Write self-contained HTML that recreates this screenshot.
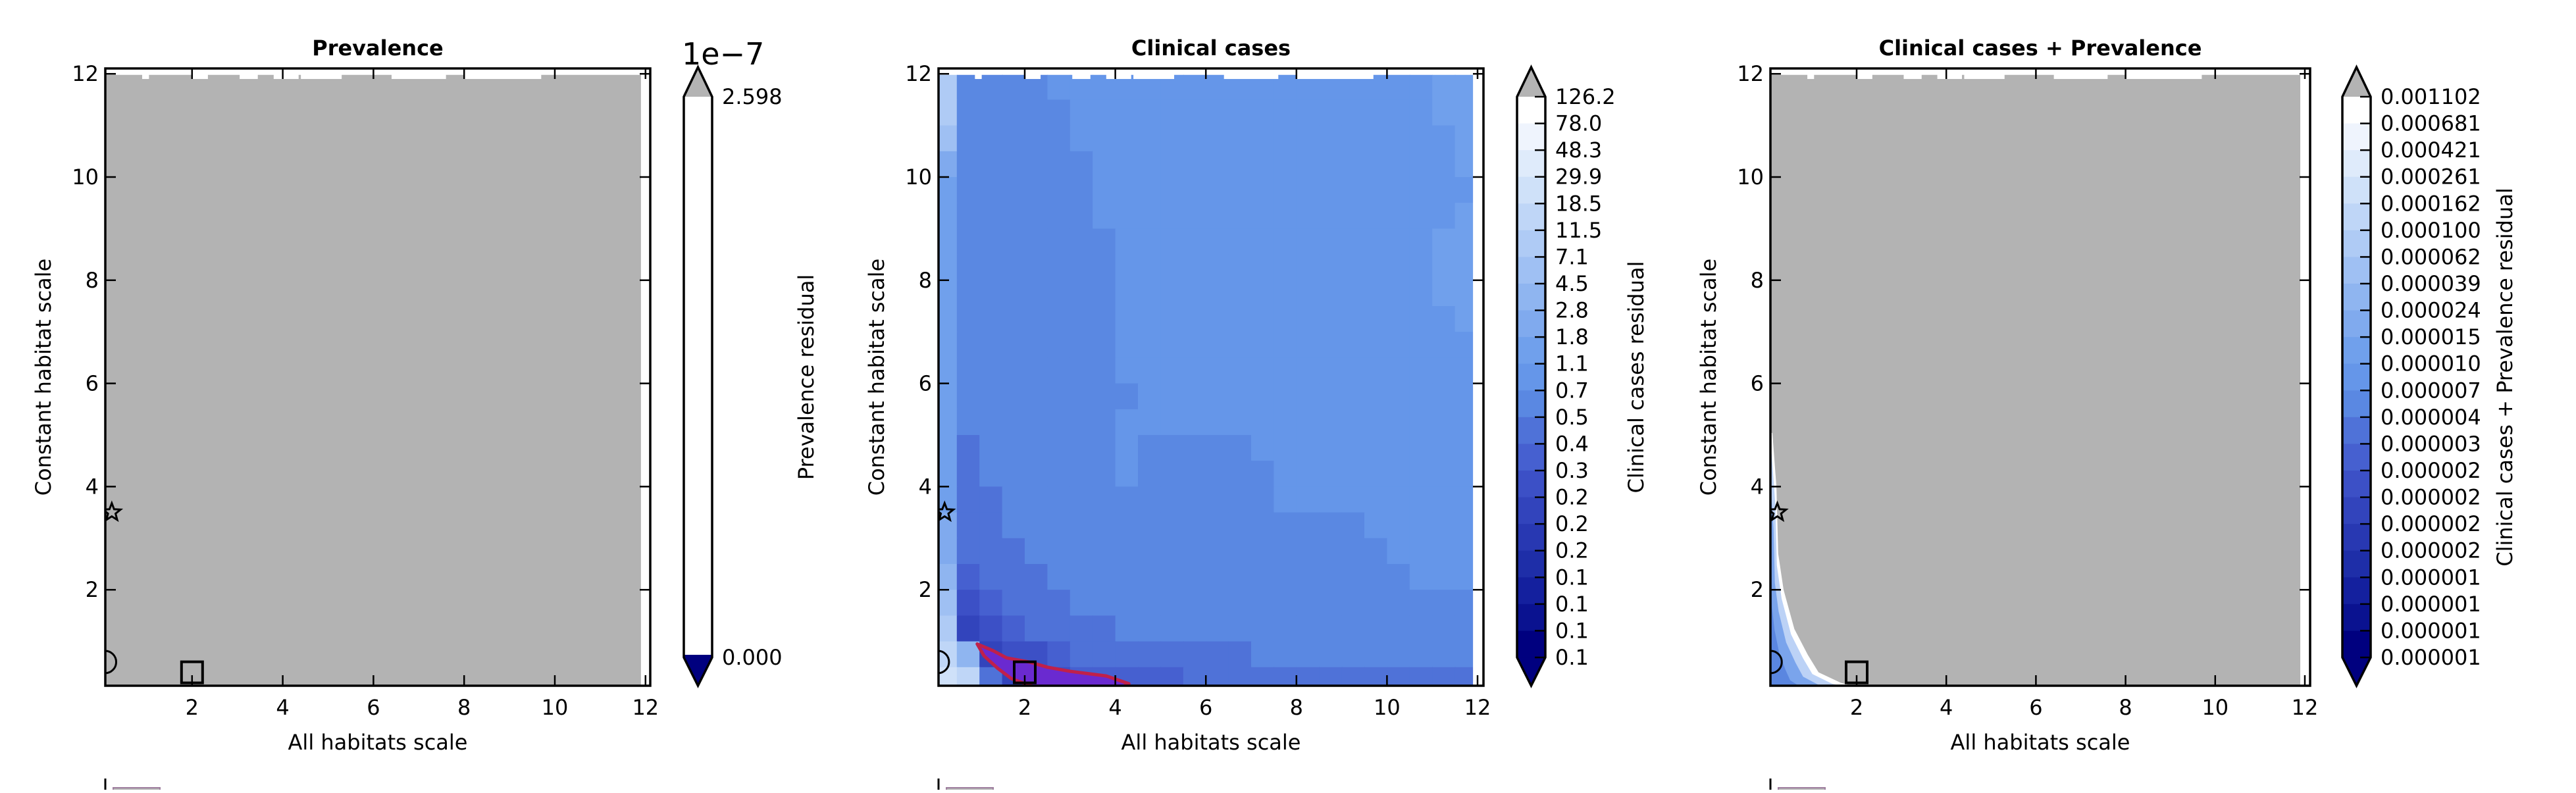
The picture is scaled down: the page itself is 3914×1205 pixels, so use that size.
<!DOCTYPE html>
<html><head><meta charset="utf-8"><style>
html,body{margin:0;padding:0;background:#fff;}
svg text{font-family:"DejaVu Sans","Liberation Sans",sans-serif;}
</style></head><body>
<svg id="fig" xmlns="http://www.w3.org/2000/svg" width="3914" height="1200" viewBox="0 0 3914 1200"></svg>
<script>
// ---------- data ----------
const xTicks = [2,4,6,8,10,12];
const yTicks = [2,4,6,8,10,12];
const panelTitles = ["Prevalence","Clinical cases","Clinical cases + Prevalence"];
const cbarLabels = ["Prevalence residual","Clinical cases residual","Clinical cases + Prevalence residual"];
const prevTicks = ["2.598","0.000"];
const clinTicks = ["126.2","78.0","48.3","29.9","18.5","11.5","7.1","4.5","2.8","1.8","1.1","0.7","0.5","0.4","0.3","0.2","0.2","0.2","0.1","0.1","0.1","0.1"];
const combTicks = ["0.001102","0.000681","0.000421","0.000261","0.000162","0.000100","0.000062","0.000039","0.000024","0.000015","0.000010","0.000007","0.000004","0.000003","0.000002","0.000002","0.000002","0.000002","0.000001","0.000001","0.000001","0.000001"];
// level colours, index 0 = lowest (navy) .. 20 = highest (white)
const levelColors = ["#00007f","#0a1290","#14209e","#1e2ea8","#2838b2","#3244bc","#3c50c6","#4660d0","#4f72d8","#5a88e2","#6596e9","#70a0ec","#80aaee","#8fb5f0","#9fc0f3","#afcbf5","#bfd6f7","#cfe1f9","#dfebfb","#eff4fd","#ffffff"];
// clinical-cases residual level grid (0.5-unit cells); row 0 = y 11.5..12, col 0 = x 0..0.5; 'a'=0 ... 'u'=20
const clinGrid = [
"pjjjjkkkkkkkkkkkkkkkkkll",
"pjjjjjkkkkkkkkkkkkkkkkll",
"ojjjjjkkkkkkkkkkkkkkkkkl",
"mjjjjjjkkkkkkkkkkkkkkkkl",
"ljjjjjjkkkkkkkkkkkkkkkkk",
"ljjjjjjkkkkkkkkkkkkkkkkl",
"ljjjjjjjkkkkkkkkkkkkkkll",
"ljjjjjjjkkkkkkkkkkkkkkll",
"ljjjjjjjkkkkkkkkkkkkkkll",
"ljjjjjjjkkkkkkkkkkkkkkkl",
"ljjjjjjjkkkkkkkkkkkkkkkk",
"ljjjjjjjkkkkkkkkkkkkkkkk",
"ljjjjjjjjkkkkkkkkkkkkkkk",
"ljjjjjjjkkkkkkkkkkkkkkkk",
"lijjjjjjkjjjjjkkkkkkkkkk",
"lijjjjjjkjjjjjjkkkkkkkkk",
"liijjjjjjjjjjjjkkkkkkkkk",
"miijjjjjjjjjjjjjjjjkkkkk",
"miiijjjjjjjjjjjjjjjjkkkk",
"nhiiijjjjjjjjjjjjjjjjkkk",
"oghiiijjjjjjjjjjjjjjjjjj",
"pfghiiiijjjjjjjjjjjjjjjj",
"qnfgghiiiiiiiijjjjjjjjjj",
"rqifgghhhhhiiiiiiiiiiiii"];
// 3rd percentile contour (clinical) in data coords
const pctX = [0.95,1.3,1.6,2.1,2.5,3.0,3.8,4.3,4.0,3.0,2.2,1.7,1.4,1.1];
const pctY = [0.95,0.82,0.68,0.6,0.5,0.42,0.33,0.18,0.05,0.1,0.12,0.28,0.48,0.72];
// combined residual: edge of valid region (data coords)
const combEdgeX = [0.12,0.21,0.25,0.37,0.61,0.91,1.15,1.64,1.9];
const combEdgeY = [5.04,4.0,2.7,2.0,1.24,0.74,0.4,0.2,0.14];
// masked (white) notches along top edge, x ranges
const topGapStart = [0.9,2.0,3.05,3.8,4.4,6.4,8.0];
const topGapEnd = [1.05,2.35,3.45,4.35,5.3,7.6,9.7];
// reference markers
const starPt = [0.23,3.5], circlePt = [0.08,0.6], squarePt = [2.0,0.4];

// ---------- layout ----------
const NS="http://www.w3.org/2000/svg";
const svg=document.getElementById('fig');
const panels=[{l:160,r:988,x0:154,ux:68.9,cb:1039},{l:1426,r:2254,x0:1419.4,ux:68.8,cb:2305},{l:2690,r:3510,x0:2684.8,ux:68.1,cb:3559}];
const T=104,B=1042,Y0=1053,UY=78.4;
function el(tag,attrs,parent){const e=document.createElementNS(NS,tag);for(const k in attrs)e.setAttribute(k,attrs[k]);(parent||svg).appendChild(e);return e;}
function txt(s,attrs,parent){const e=el('text',attrs,parent);e.textContent=s;return e;}

panels.forEach((p,pi)=>{
  const sx=d=>p.x0+d*p.ux, sy=d=>Y0-d*UY;
  const g=el('g',{});
  
  
  const clip=el('clipPath',{id:'clip'+pi},g);
  el('rect',{x:p.l,y:T,width:p.r-p.l,height:B-T},clip);
  const plot=el('g',{'clip-path':'url(#clip'+pi+')'},g);
  
  
  const xEnd=11.9, yTop=11.98;
  if(pi===1){
    clinGrid.forEach((row,ri)=>{
      for(let ci=0;ci<row.length;ci++){
        const lv=row.charCodeAt(ci)-97;
        const xa=ci*0.5, xb=Math.min(xEnd,(ci+1)*0.5), ya=12-ri*0.5, yb=12-(ri+1)*0.5;
        const c=el('rect',{x:sx(xa),y:sy(Math.min(ya,yTop)),width:sx(xb)-sx(xa)+1,height:sy(yb)-sy(Math.min(ya,yTop))+1,fill:levelColors[lv]},plot);
        
        
      }
    });
    const pts=pctX.map((x,i)=>sx(x)+','+sy(pctY[i])).join(' ');
    const pc=el('polygon',{points:pts,fill:'#6a2ad0',stroke:'#c0204a','stroke-width':5,'stroke-linejoin':'round'},plot);
    
    
  } else {
    const bg=el('rect',{x:sx(0),y:sy(yTop),width:sx(xEnd)-sx(0),height:sy(0)-sy(yTop),fill:'#b3b3b3'},plot);
    
    
    if(pi===2){
      const shades=[["#ffffff",1],["#bcd2f6",0.88],["#7aa4ec",0.7],["#5a86e0",0.45]];
      shades.forEach(([col,f])=>{
        const pts=[sx(0)+','+sy(combEdgeY[0])].concat(combEdgeX.map((x,i)=>sx(x*f)+','+sy(combEdgeY[i]*(0.3+0.7*f)))).concat([sx(combEdgeX[combEdgeX.length-1]*f)+','+sy(0),sx(0)+','+sy(0)]).join(' ');
        const pg=el('polygon',{points:pts,fill:col},plot);
        
        
      });
    }
  }
  topGapStart.forEach((a,i)=>{
    el('rect',{x:sx(a),y:T,width:sx(topGapEnd[i])-sx(a),height:sy(11.9)-T,fill:'#fff'},plot);
  });
  el('rect',{x:sx(xEnd),y:T,width:p.r-sx(xEnd),height:B-T,fill:'#fff'},plot);
  // markers
  const st=[];for(let k=0;k<10;k++){const a=-Math.PI/2+k*Math.PI/5,r=k%2?6:14;st.push((sx(starPt[0])+r*Math.cos(a))+','+(sy(starPt[1])+r*Math.sin(a)));}
  const s=el('polygon',{points:st.join(' '),fill:'none',stroke:'#000','stroke-width':3},plot);
  
  
  const c=el('circle',{cx:sx(circlePt[0]),cy:sy(circlePt[1]),r:17,fill:'none',stroke:'#000','stroke-width':3},plot);
  
  
  const sq=el('rect',{x:sx(squarePt[0])-16,y:sy(squarePt[1])-16,width:32,height:32,fill:'none',stroke:'#000','stroke-width':4},plot);
  
  
  // frame
  el('rect',{x:p.l,y:T,width:p.r-p.l,height:B-T,fill:'none',stroke:'#000','stroke-width':3.5},g);
  xTicks.forEach(v=>{
    const x=sx(v);
    el('line',{x1:x,y1:B,x2:x,y2:B-16,stroke:'#000','stroke-width':2.5},g);
    el('line',{x1:x,y1:T,x2:x,y2:T+16,stroke:'#000','stroke-width':2.5},g);
    const t=txt(String(v),{x:x,y:B+44,'font-size':32,'text-anchor':'middle'},g);
    
    
  });
  yTicks.forEach(v=>{
    const y=sy(v);
    el('line',{x1:p.l,y1:y,x2:p.l+16,y2:y,stroke:'#000','stroke-width':2.5},g);
    el('line',{x1:p.r,y1:y,x2:p.r-16,y2:y,stroke:'#000','stroke-width':2.5},g);
    const t=txt(String(v),{x:p.l-10,y:y+11,'font-size':32,'text-anchor':'end'},g);
    
    
  });
  const cx=(p.l+p.r)/2;
  const ti=txt(panelTitles[pi],{x:cx,y:84,'font-size':32,'font-weight':'bold','text-anchor':'middle'},g);
  
  
  const xt=txt('All habitats scale',{x:cx,y:1139,'font-size':32,'text-anchor':'middle'},g);
  
  
  const yx=p.l-94, ym=(T+B)/2;
  const yt=txt('Constant habitat scale',{x:yx,y:ym,'font-size':32,'text-anchor':'middle',transform:'rotate(-90 '+yx+' '+ym+')',dy:11},g);
  
  
  // legend fragment at bottom
  el('line',{x1:p.l,y1:1183,x2:p.l,y2:1200,stroke:'#000','stroke-width':3},g);
  const lp=el('rect',{x:p.l+12,y:1197,width:71,height:10,fill:'#b3b3b3',stroke:'#a080a0','stroke-width':2},g);
  
  
  // colorbar
  const cb=el('g',{},g);
  
  
  const L=p.cb,R=p.cb+43,M=(L+R)/2,rt=147,rb=999;
  el('polygon',{points:`${L},${rt} ${M},102 ${R},${rt}`,fill:'#b3b3b3'},cb);
  el('polygon',{points:`${L},${rb} ${M},1042 ${R},${rb}`,fill:'#00007f'},cb);
  const labels=pi===0?prevTicks:(pi===1?clinTicks:combTicks);
  if(pi===0){
    el('rect',{x:L,y:rt,width:R-L,height:rb-rt,fill:'#fff'},cb);
    el('rect',{x:L,y:rb-4,width:R-L,height:4,fill:'#00007f'},cb);
    labels.forEach((s,i)=>{
      const y=i===0?rt:rb;
      const t=txt(s,{x:R+15,y:y+11,'font-size':32},cb);
      
      
    });
    const e=txt('1e\u22127',{x:L-3,y:98,'font-size':46},cb);
    
    
  } else {
    const n=labels.length-1, h=(rb-rt)/n;
    for(let i=0;i<n;i++){
      const lv=n-1-i;
      el('rect',{x:L,y:rt+i*h,width:R-L,height:h+0.6,fill:levelColors[lv]},cb);
    }
    labels.forEach((s,i)=>{
      const y=rt+i*h;
      el('line',{x1:R,y1:y,x2:R-16,y2:y,stroke:'#000','stroke-width':2.5},cb);
      const t=txt(s,{x:R+15,y:y+11,'font-size':32},cb);
      
      
    });
  }
  el('polygon',{points:`${L},${rt} ${M},102 ${R},${rt} ${R},${rb} ${M},1042 ${L},${rb}`,fill:'none',stroke:'#000','stroke-width':3.5},cb);
  const lx=[1225,2486,3806][pi];
  const cl=txt(cbarLabels[pi],{x:lx,y:573,'font-size':32,'text-anchor':'middle',transform:'rotate(-90 '+lx+' 573)',dy:11},cb);
  
  
});
</script>
</body></html>
